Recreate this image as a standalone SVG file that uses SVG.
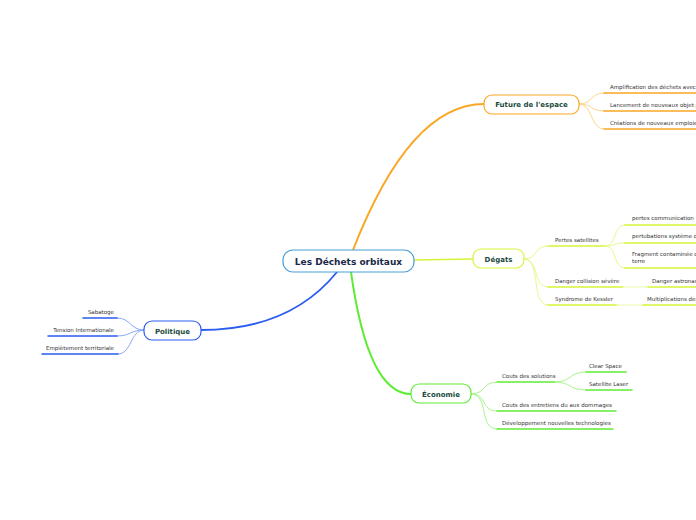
<svg xmlns="http://www.w3.org/2000/svg" width="696" height="520" viewBox="0 0 696 520">
<style>
.leaf{font-family:"DejaVu Sans",Verdana,sans-serif;font-size:5.5px;fill:#333}
.nt{font-family:"DejaVu Sans",Verdana,sans-serif;font-size:7px;font-weight:bold;fill:#1b4a3c;text-anchor:middle}
.ct{font-family:"DejaVu Sans",Verdana,sans-serif;font-size:9px;font-weight:bold;fill:#1a2849;text-anchor:middle}
.c{fill:none;stroke-linecap:round}
.o{stroke:#f9a825}.y{stroke:#d6f53a}.g{stroke:#5fec36}.b{stroke:#2a5cf0}
.lo{stroke:#fcd38a}.ly{stroke:#e8f98a}.lg{stroke:#a6f58c}.lb{stroke:#8aa6f7}
</style>
<rect width="696" height="520" fill="#fff"/>
<g id="connectors">
<path class="c o" d="M353,250 Q410,104 484,104" stroke-width="2"/>
<path class="c y" d="M414,260 L473,259" stroke-width="1.6"/>
<path class="c g" d="M351,272 Q368,394 411,394" stroke-width="2"/>
<path class="c b" d="M337,272 Q290,330 201,330" stroke-width="1.8"/>
<!-- future -->
<path class="c lo" d="M579,104 C593,104 590,93 604,93 M579,104 C593,104 590,111 604,111 M579,104 C593,104 590,129 604,129" stroke-width="1"/>
<path class="c o" d="M604,93 H696 M604,111 H696 M604,129 H696" stroke-width="1.5"/>
<!-- degats -->
<path class="c ly" d="M524,259 C538,259 534,246 548,246 M524,259 C540,259 532,287 548,287 M524,259 C542,259 530,305 548,305" stroke-width="1"/>
<path class="c y" d="M548,246 H605 M548,287 H623 M548,305 H617" stroke-width="1.5"/>
<path class="c ly" d="M605,246 C618,246 612,225 625,225 M605,246 C618,246 612,243 625,243 M605,246 C618,246 612,268 625,268" stroke-width="1"/>
<path class="c y" d="M625,225 H696 M625,243 H696 M625,268 H696" stroke-width="1.5"/>
<path class="c" stroke="#f1fcc8" d="M623,287 H648 M617,305 H643" stroke-width="1.5"/>
<path class="c y" d="M648,287 H696 M643,305 H696" stroke-width="1.5"/>
<!-- economie -->
<path class="c lg" d="M471,394 C486,394 482,382 497,382 M471,394 C488,394 480,411 497,411 M471,394 C490,394 478,429 497,429" stroke-width="1"/>
<path class="c g" d="M497,382 H555 M497,411 H616 M497,429 H613" stroke-width="1.5"/>
<path class="c lg" d="M555,382 C572,382 568,372 586,372 M555,382 C572,382 568,390 586,390" stroke-width="1"/>
<path class="c g" d="M586,372 H626 M586,390 H632" stroke-width="1.5"/>
<!-- politique -->
<path class="c lb" d="M144,330 C130,330 131,318 117,318 M144,330 C130,330 131,336 117,336 M144,330 C130,330 132,354 118,354" stroke-width="1"/>
<path class="c b" d="M117,318 H83 M117,336 H48 M118,354 H42" stroke-width="1.5"/>
</g>
<g id="center">
<rect x="283" y="250" width="131" height="22" rx="10" fill="#fff" stroke="#4a9fd8" stroke-width="1.2"/>
<text class="ct" x="348.5" y="264.5">Les Déchets orbitaux</text>
</g>
<g id="future">
<rect x="484" y="95" width="95" height="19" rx="8" fill="#fff" stroke="#f9a825" stroke-width="1.2"/>
<text class="nt" x="531.5" y="107">Future de l'espace</text>
<text class="leaf" x="610" y="89">Amplification des déchets avec</text>
<text class="leaf" x="610" y="107">Lancement de nouveaux objet p</text>
<text class="leaf" x="610" y="125">Créations de nouveaux emploie</text>
</g>
<g id="degats">
<rect x="473" y="249" width="51" height="19" rx="8" fill="#fff" stroke="#d6f53a" stroke-width="1.2"/>
<text class="nt" x="498.5" y="261.5">Dégats</text>
<text class="leaf" x="555" y="242">Pertes satellites</text>
<text class="leaf" x="632" y="220">pertes communication</text>
<text class="leaf" x="632" y="238">pertubations système d</text>
<text class="leaf" x="632" y="256">Fragment contaminée c</text>
<text class="leaf" x="632" y="263">terre</text>
<text class="leaf" x="555" y="283">Danger collision sévère</text>
<text class="leaf" x="652" y="283">Danger astronau</text>
<text class="leaf" x="555" y="301">Syndrome de Kessler</text>
<text class="leaf" x="647" y="301">Multiplications des</text>
</g>
<g id="economie">
<rect x="411" y="384" width="60" height="19" rx="8" fill="#fff" stroke="#5fec36" stroke-width="1.2"/>
<text class="nt" x="441" y="396.5">Économie</text>
<text class="leaf" x="502" y="378">Couts des solutions</text>
<text class="leaf" x="589" y="368">Clear Space</text>
<text class="leaf" x="589" y="386">Satellite Laser</text>
<text class="leaf" x="502" y="407">Couts des entretiens du aux dommages</text>
<text class="leaf" x="502" y="425">Développement nouvelles technologies</text>
</g>
<g id="politique">
<rect x="144" y="321" width="57" height="19" rx="8" fill="#fff" stroke="#2a5cf0" stroke-width="1.2"/>
<text class="nt" x="172.5" y="333.5">Politique</text>
<text class="leaf" x="114" y="314" text-anchor="end">Sabatoge</text>
<text class="leaf" x="114" y="332" text-anchor="end">Tension Internationale</text>
<text class="leaf" x="114" y="350" text-anchor="end">Empiètement territoriale</text>
</g>
</svg>
